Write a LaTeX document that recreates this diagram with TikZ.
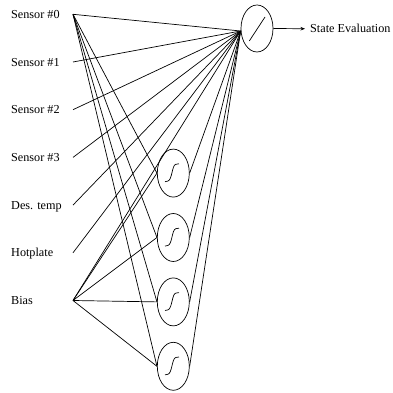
\documentclass[tikz,border=0pt]{standalone}
\usepackage{fontspec}
\setmainfont{Liberation Serif}
\usetikzlibrary{arrows.meta,positioning,calc,shapes.geometric}
\tikzset{
  lbl/.style={anchor=west,inner sep=0pt,font=\fontsize{12.2}{14}\selectfont,text height=8.1pt,text depth=0pt},
  unit/.style={draw,ellipse,line width=0.7pt,minimum width=32pt,minimum height=48pt,inner sep=0pt},
  wire/.style={draw,line width=0.7pt},
  outflow/.style={-{Stealth[length=4.5pt,width=3.5pt]},line width=0.7pt}
}
\begin{document}
\begin{tikzpicture}[x=1pt,y=1pt,node distance=15.7pt]
  \useasboundingbox (0,0) rectangle (393,393);
  % input labels and their wire ends
  \foreach \n/\t [count=\i from 0] in {sen0/Sensor \#0,sen1/Sensor \#1,sen2/Sensor \#2,sen3/Sensor \#3,des/Des. temp,hot/Hotplate,bias/Bias} {
    \node[lbl] (\n-lbl) at (11,{378.7-47.7*\i}) {\t};
    \coordinate (\n) at (73,{378.7-47.7*\i});
  }

  % hidden units
  \node[unit] (h1) at (173.3,219.9) {};
  \node[unit, below=of h1] (h2) {};
  \node[unit, below=of h2] (h3) {};
  \node[unit, below=of h3] (h4) {};

  % output unit
  \node[unit, minimum height=47pt] (out) at (257,364.5) {};
  \node[lbl] (eval) at (310,364.2) {State Evaluation};
  \draw[outflow, shorten >=5pt] (out.east) -- (eval.west);
  \coordinate (oin) at ($(out.west)+(0,-2.5)$);

  \foreach \n in {sen0,sen1,sen2,sen3,des,hot,bias} \draw[wire] (\n) -- (oin);
  \foreach \h in {h1,h2,h3,h4} {
    \draw[wire] (sen0) -- (\h.west);
    \draw[wire] (bias) -- (\h.west);
    \draw[wire] (\h.east) -- (oin);
    \draw[wire, shift={(\h.center)}] (-8.3,-8.6) -- (-5.5,-8) .. controls (-1,-7) and (-1.5,8) .. (2.5,8.8) -- (5.7,9.3);
  }
  \draw[wire, shift={(out.center)}] (-7.7,-12.5) -- (8,11.5);
\end{tikzpicture}
\end{document}
